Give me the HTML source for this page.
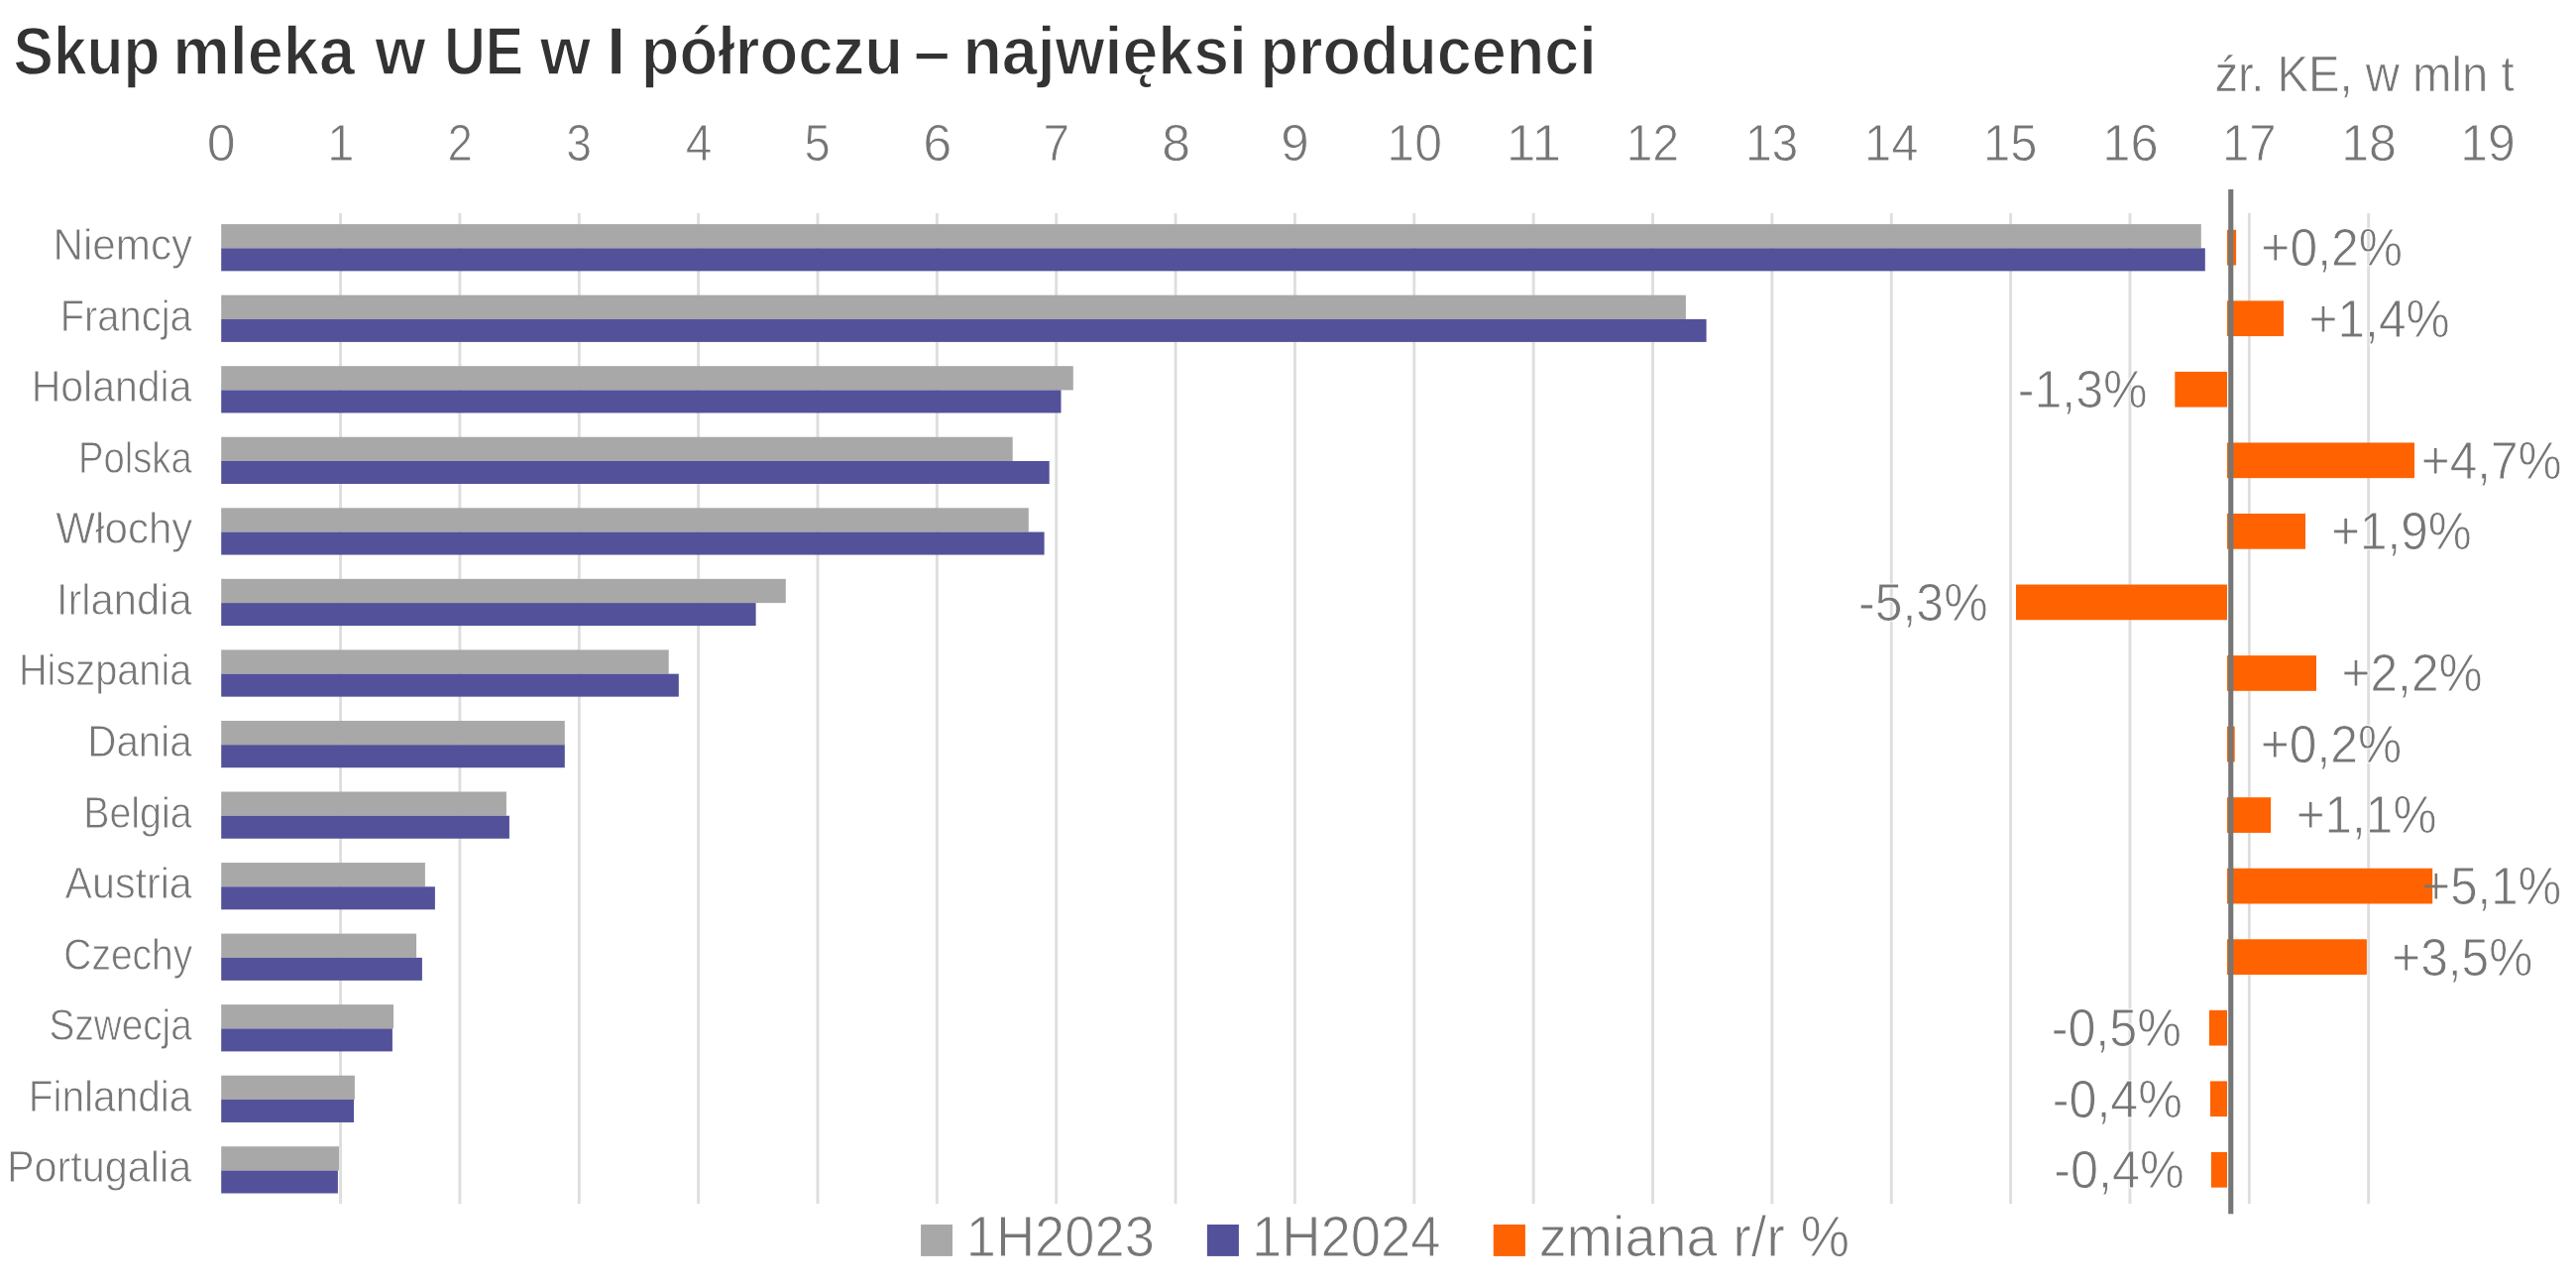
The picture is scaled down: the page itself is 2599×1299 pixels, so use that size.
<!DOCTYPE html>
<html lang="pl"><head><meta charset="utf-8"><title>Skup mleka w UE w I półroczu – najwięksi producenci</title>
<style>html,body{margin:0;padding:0;background:#fff;}body{width:2599px;height:1299px;overflow:hidden;}svg{display:block;will-change:transform;}text{white-space:pre;}</style>
</head><body>
<svg width="2599" height="1299" viewBox="0 0 2599 1299" font-family="&quot;Liberation Sans&quot;, sans-serif">
<defs><linearGradient id="hs" gradientUnits="userSpaceOnUse" x1="2454.1" y1="0" x2="2454.3" y2="0"><stop offset="0" stop-color="#FF6200"/><stop offset="1" stop-color="#fff"/></linearGradient></defs>
<rect width="2599" height="1299" fill="#fff"/>
<g stroke="#DEDEDE" stroke-width="2.9">
<line x1="343.56" y1="215" x2="343.56" y2="1214.1"/>
<line x1="463.92" y1="215" x2="463.92" y2="1214.1"/>
<line x1="584.28" y1="215" x2="584.28" y2="1214.1"/>
<line x1="704.64" y1="215" x2="704.64" y2="1214.1"/>
<line x1="825.00" y1="215" x2="825.00" y2="1214.1"/>
<line x1="945.36" y1="215" x2="945.36" y2="1214.1"/>
<line x1="1065.72" y1="215" x2="1065.72" y2="1214.1"/>
<line x1="1186.08" y1="215" x2="1186.08" y2="1214.1"/>
<line x1="1306.44" y1="215" x2="1306.44" y2="1214.1"/>
<line x1="1426.80" y1="215" x2="1426.80" y2="1214.1"/>
<line x1="1547.16" y1="215" x2="1547.16" y2="1214.1"/>
<line x1="1667.52" y1="215" x2="1667.52" y2="1214.1"/>
<line x1="1787.88" y1="215" x2="1787.88" y2="1214.1"/>
<line x1="1908.24" y1="215" x2="1908.24" y2="1214.1"/>
<line x1="2028.60" y1="215" x2="2028.60" y2="1214.1"/>
<line x1="2148.96" y1="215" x2="2148.96" y2="1214.1"/>
<line x1="2269.32" y1="215" x2="2269.32" y2="1214.1"/>
<line x1="2389.68" y1="215" x2="2389.68" y2="1214.1"/>
</g>
<rect x="223.2" y="226.10" width="1997.60" height="24.25" fill="#A8A8A8"/>
<rect x="223.2" y="250.35" width="2001.60" height="23.0" fill="#525199"/>
<rect x="2247.00" y="231.80" width="9.10" height="35.7" fill="#FF6200"/>
<rect x="223.2" y="297.65" width="1477.70" height="24.25" fill="#A8A8A8"/>
<rect x="223.2" y="321.90" width="1498.40" height="23.0" fill="#525199"/>
<rect x="2247.00" y="303.35" width="57.00" height="35.7" fill="#FF6200"/>
<rect x="223.2" y="369.20" width="859.60" height="24.25" fill="#A8A8A8"/>
<rect x="223.2" y="393.45" width="847.30" height="23.0" fill="#525199"/>
<rect x="2194.30" y="374.90" width="52.70" height="35.7" fill="#FF6200"/>
<rect x="223.2" y="440.75" width="798.50" height="24.25" fill="#A8A8A8"/>
<rect x="223.2" y="465.00" width="835.50" height="23.0" fill="#525199"/>
<rect x="2247.00" y="446.45" width="189.00" height="35.7" fill="#FF6200"/>
<rect x="223.2" y="512.30" width="814.60" height="24.25" fill="#A8A8A8"/>
<rect x="223.2" y="536.55" width="830.40" height="23.0" fill="#525199"/>
<rect x="2247.00" y="518.00" width="79.00" height="35.7" fill="#FF6200"/>
<rect x="223.2" y="583.85" width="569.60" height="24.25" fill="#A8A8A8"/>
<rect x="223.2" y="608.10" width="539.40" height="23.0" fill="#525199"/>
<rect x="2034.00" y="589.55" width="213.00" height="35.7" fill="#FF6200"/>
<rect x="223.2" y="655.40" width="451.50" height="24.25" fill="#A8A8A8"/>
<rect x="223.2" y="679.65" width="461.60" height="23.0" fill="#525199"/>
<rect x="2247.00" y="661.10" width="90.00" height="35.7" fill="#FF6200"/>
<rect x="223.2" y="726.95" width="346.60" height="24.25" fill="#A8A8A8"/>
<rect x="223.2" y="751.20" width="346.60" height="23.0" fill="#525199"/>
<rect x="2247.00" y="732.65" width="7.70" height="35.7" fill="#FF6200"/>
<rect x="223.2" y="798.50" width="287.70" height="24.25" fill="#A8A8A8"/>
<rect x="223.2" y="822.75" width="290.70" height="23.0" fill="#525199"/>
<rect x="2247.00" y="804.20" width="44.10" height="35.7" fill="#FF6200"/>
<rect x="223.2" y="870.05" width="205.70" height="24.25" fill="#A8A8A8"/>
<rect x="223.2" y="894.30" width="215.70" height="23.0" fill="#525199"/>
<rect x="2247.00" y="875.75" width="207.20" height="35.7" fill="#FF6200"/>
<rect x="223.2" y="941.60" width="196.90" height="24.25" fill="#A8A8A8"/>
<rect x="223.2" y="965.85" width="202.70" height="23.0" fill="#525199"/>
<rect x="2247.00" y="947.30" width="140.90" height="35.7" fill="#FF6200"/>
<rect x="223.2" y="1013.15" width="173.80" height="24.25" fill="#A8A8A8"/>
<rect x="223.2" y="1037.40" width="172.70" height="23.0" fill="#525199"/>
<rect x="2228.90" y="1018.85" width="18.10" height="35.7" fill="#FF6200"/>
<rect x="223.2" y="1084.70" width="134.70" height="24.25" fill="#A8A8A8"/>
<rect x="223.2" y="1108.95" width="133.80" height="23.0" fill="#525199"/>
<rect x="2230.00" y="1090.40" width="17.00" height="35.7" fill="#FF6200"/>
<rect x="223.2" y="1156.25" width="118.80" height="24.25" fill="#A8A8A8"/>
<rect x="223.2" y="1180.50" width="117.70" height="23.0" fill="#525199"/>
<rect x="2230.90" y="1161.95" width="16.10" height="35.7" fill="#FF6200"/>
<rect x="2248.2" y="191" width="5.1" height="1033.3" fill="#767676"/>
<rect x="929.1" y="1235" width="31.9" height="31.9" fill="#A8A8A8"/>
<rect x="1217.9" y="1235" width="32" height="31.9" fill="#525199"/>
<rect x="1506.8" y="1235" width="32.1" height="31.9" fill="#FF6200"/>
<text id="title" y="75.40" font-size="69.3" fill="#333333" font-weight="bold" stroke="#fff" stroke-width="1.4"><tspan id="t0" x="13.59" textLength="147.76" lengthAdjust="spacingAndGlyphs">Skup</tspan> <tspan id="t1" x="174.13" textLength="183.89" lengthAdjust="spacingAndGlyphs">mleka</tspan> <tspan id="t2" x="378.33" textLength="51.42" lengthAdjust="spacingAndGlyphs">w</tspan> <tspan id="t3" x="448.24" textLength="79.83" lengthAdjust="spacingAndGlyphs">UE</tspan> <tspan id="t4" x="544.80" textLength="51.31" lengthAdjust="spacingAndGlyphs">w</tspan> <tspan id="t5" x="611.70" textLength="19.78" lengthAdjust="spacingAndGlyphs">I</tspan> <tspan id="t6" x="646.70" textLength="264.33" lengthAdjust="spacingAndGlyphs">półroczu</tspan> <tspan id="t7" x="922.06" textLength="36.46" lengthAdjust="spacingAndGlyphs">–</tspan> <tspan id="t8" x="971.47" textLength="286.40" lengthAdjust="spacingAndGlyphs">najwięksi</tspan> <tspan id="t9" x="1271.47" textLength="339.37" lengthAdjust="spacingAndGlyphs">producenci</tspan></text>
<text id="src" x="2234.39" y="92.15" font-size="50.0" fill="#767676" stroke="#fff" stroke-width="0.7" textLength="302.17" lengthAdjust="spacingAndGlyphs">źr. KE, w mln t</text>
<text id="ax0" x="208.87" y="162.40" font-size="51.8" fill="#767676" stroke="#fff" stroke-width="0.85" textLength="28.88" lengthAdjust="spacingAndGlyphs">0</text>
<text id="ax1" x="330.23" y="162.40" font-size="51.8" fill="#767676" stroke="#fff" stroke-width="0.85" textLength="27.25" lengthAdjust="spacingAndGlyphs">1</text>
<text id="ax2" x="451.42" y="162.40" font-size="51.8" fill="#767676" stroke="#fff" stroke-width="0.85" textLength="25.35" lengthAdjust="spacingAndGlyphs">2</text>
<text id="ax3" x="571.15" y="162.40" font-size="51.8" fill="#767676" stroke="#fff" stroke-width="0.85" textLength="25.76" lengthAdjust="spacingAndGlyphs">3</text>
<text id="ax4" x="691.76" y="162.40" font-size="51.8" fill="#767676" stroke="#fff" stroke-width="0.85" textLength="26.62" lengthAdjust="spacingAndGlyphs">4</text>
<text id="ax5" x="811.52" y="162.40" font-size="51.8" fill="#767676" stroke="#fff" stroke-width="0.85" textLength="26.29" lengthAdjust="spacingAndGlyphs">5</text>
<text id="ax6" x="931.37" y="162.40" font-size="51.8" fill="#767676" stroke="#fff" stroke-width="0.85" textLength="29.04" lengthAdjust="spacingAndGlyphs">6</text>
<text id="ax7" x="1052.61" y="162.40" font-size="51.8" fill="#767676" stroke="#fff" stroke-width="0.85" textLength="26.71" lengthAdjust="spacingAndGlyphs">7</text>
<text id="ax8" x="1172.24" y="162.40" font-size="51.8" fill="#767676" stroke="#fff" stroke-width="0.85" textLength="28.86" lengthAdjust="spacingAndGlyphs">8</text>
<text id="ax9" x="1292.17" y="162.40" font-size="51.8" fill="#767676" stroke="#fff" stroke-width="0.85" textLength="28.47" lengthAdjust="spacingAndGlyphs">9</text>
<text id="ax10" x="1399.33" y="162.40" font-size="51.8" fill="#767676" stroke="#fff" stroke-width="0.85" textLength="55.63" lengthAdjust="spacingAndGlyphs">10</text>
<text id="ax11" x="1519.67" y="162.40" font-size="51.8" fill="#767676" stroke="#fff" stroke-width="0.85" textLength="55.51" lengthAdjust="spacingAndGlyphs">11</text>
<text id="ax12" x="1640.49" y="162.40" font-size="51.8" fill="#767676" stroke="#fff" stroke-width="0.85" textLength="53.79" lengthAdjust="spacingAndGlyphs">12</text>
<text id="ax13" x="1760.89" y="162.40" font-size="51.8" fill="#767676" stroke="#fff" stroke-width="0.85" textLength="53.49" lengthAdjust="spacingAndGlyphs">13</text>
<text id="ax14" x="1880.96" y="162.40" font-size="51.8" fill="#767676" stroke="#fff" stroke-width="0.85" textLength="54.39" lengthAdjust="spacingAndGlyphs">14</text>
<text id="ax15" x="2001.09" y="162.40" font-size="51.8" fill="#767676" stroke="#fff" stroke-width="0.85" textLength="54.60" lengthAdjust="spacingAndGlyphs">15</text>
<text id="ax16" x="2121.25" y="162.40" font-size="51.8" fill="#767676" stroke="#fff" stroke-width="0.85" textLength="56.38" lengthAdjust="spacingAndGlyphs">16</text>
<text id="ax17" x="2241.88" y="162.40" font-size="51.8" fill="#767676" stroke="#fff" stroke-width="0.85" textLength="54.73" lengthAdjust="spacingAndGlyphs">17</text>
<text id="ax18" x="2362.13" y="162.40" font-size="51.8" fill="#767676" stroke="#fff" stroke-width="0.85" textLength="55.83" lengthAdjust="spacingAndGlyphs">18</text>
<text id="ax19" x="2482.23" y="162.40" font-size="51.8" fill="#767676" stroke="#fff" stroke-width="0.85" textLength="55.49" lengthAdjust="spacingAndGlyphs">19</text>
<text id="c0" x="53.43" y="262.10" font-size="43.5" fill="#767676" stroke="#fff" stroke-width="0.8" textLength="140.72" lengthAdjust="spacingAndGlyphs">Niemcy</text>
<text id="p0" x="2281.35" y="268.05" font-size="54.1" fill="#767676" stroke="#fff" stroke-width="0.85" textLength="142.61" lengthAdjust="spacingAndGlyphs">+0,2%</text>
<text id="c1" x="60.74" y="333.65" font-size="43.5" fill="#767676" stroke="#fff" stroke-width="0.8" textLength="132.94" lengthAdjust="spacingAndGlyphs">Francja</text>
<text id="p1" x="2329.48" y="339.60" font-size="54.1" fill="#767676" stroke="#fff" stroke-width="0.85" textLength="142.22" lengthAdjust="spacingAndGlyphs">+1,4%</text>
<text id="c2" x="31.63" y="405.20" font-size="43.5" fill="#767676" stroke="#fff" stroke-width="0.8" textLength="161.84" lengthAdjust="spacingAndGlyphs">Holandia</text>
<text id="p2" x="2035.69" y="411.15" font-size="54.1" fill="#767676" stroke="#fff" stroke-width="0.85" textLength="130.91" lengthAdjust="spacingAndGlyphs">-1,3%</text>
<text id="c3" x="78.94" y="476.75" font-size="43.5" fill="#767676" stroke="#fff" stroke-width="0.8" textLength="114.72" lengthAdjust="spacingAndGlyphs">Polska</text>
<text id="p3" x="2442.67" y="482.70" font-size="54.1" fill="#767676" stroke="#fff" stroke-width="0.85" textLength="142.05" lengthAdjust="spacingAndGlyphs">+4,7%</text>
<text id="c4" x="56.36" y="548.30" font-size="43.5" fill="#767676" stroke="#fff" stroke-width="0.8" textLength="138.07" lengthAdjust="spacingAndGlyphs">Włochy</text>
<text id="p4" x="2352.20" y="554.25" font-size="54.1" fill="#767676" stroke="#fff" stroke-width="0.85" textLength="141.49" lengthAdjust="spacingAndGlyphs">+1,9%</text>
<text id="c5" x="56.89" y="619.85" font-size="43.5" fill="#767676" stroke="#fff" stroke-width="0.8" textLength="136.75" lengthAdjust="spacingAndGlyphs">Irlandia</text>
<text id="p5" x="1875.08" y="625.80" font-size="54.1" fill="#767676" stroke="#fff" stroke-width="0.85" textLength="130.49" lengthAdjust="spacingAndGlyphs">-5,3%</text>
<text id="c6" x="18.94" y="691.40" font-size="43.5" fill="#767676" stroke="#fff" stroke-width="0.8" textLength="174.40" lengthAdjust="spacingAndGlyphs">Hiszpania</text>
<text id="p6" x="2362.52" y="697.35" font-size="54.1" fill="#767676" stroke="#fff" stroke-width="0.85" textLength="142.10" lengthAdjust="spacingAndGlyphs">+2,2%</text>
<text id="c7" x="88.29" y="762.95" font-size="43.5" fill="#767676" stroke="#fff" stroke-width="0.8" textLength="105.42" lengthAdjust="spacingAndGlyphs">Dania</text>
<text id="p7" x="2280.75" y="768.90" font-size="54.1" fill="#767676" stroke="#fff" stroke-width="0.85" textLength="142.35" lengthAdjust="spacingAndGlyphs">+0,2%</text>
<text id="c8" x="84.18" y="834.50" font-size="43.5" fill="#767676" stroke="#fff" stroke-width="0.8" textLength="109.42" lengthAdjust="spacingAndGlyphs">Belgia</text>
<text id="p8" x="2316.66" y="840.45" font-size="54.1" fill="#767676" stroke="#fff" stroke-width="0.85" textLength="141.76" lengthAdjust="spacingAndGlyphs">+1,1%</text>
<text id="c9" x="65.52" y="906.05" font-size="43.5" fill="#767676" stroke="#fff" stroke-width="0.8" textLength="128.22" lengthAdjust="spacingAndGlyphs">Austria</text>
<text id="p9" x="2443.44" y="912.00" font-size="54.1" fill="#767676" stroke="url(#hs)" stroke-width="0.85" textLength="140.85" lengthAdjust="spacingAndGlyphs">+5,1%</text>
<text id="c10" x="64.28" y="977.60" font-size="43.5" fill="#767676" stroke="#fff" stroke-width="0.8" textLength="129.95" lengthAdjust="spacingAndGlyphs">Czechy</text>
<text id="p10" x="2413.26" y="983.55" font-size="54.1" fill="#767676" stroke="#fff" stroke-width="0.85" textLength="142.06" lengthAdjust="spacingAndGlyphs">+3,5%</text>
<text id="c11" x="49.57" y="1049.15" font-size="43.5" fill="#767676" stroke="#fff" stroke-width="0.8" textLength="144.11" lengthAdjust="spacingAndGlyphs">Szwecja</text>
<text id="p11" x="2069.67" y="1055.10" font-size="54.1" fill="#767676" stroke="#fff" stroke-width="0.85" textLength="131.31" lengthAdjust="spacingAndGlyphs">-0,5%</text>
<text id="c12" x="28.67" y="1120.70" font-size="43.5" fill="#767676" stroke="#fff" stroke-width="0.8" textLength="164.80" lengthAdjust="spacingAndGlyphs">Finlandia</text>
<text id="p12" x="2070.70" y="1126.65" font-size="54.1" fill="#767676" stroke="#fff" stroke-width="0.85" textLength="131.30" lengthAdjust="spacingAndGlyphs">-0,4%</text>
<text id="c13" x="6.90" y="1192.25" font-size="43.5" fill="#767676" stroke="#fff" stroke-width="0.8" textLength="186.31" lengthAdjust="spacingAndGlyphs">Portugalia</text>
<text id="p13" x="2072.22" y="1198.20" font-size="54.1" fill="#767676" stroke="#fff" stroke-width="0.85" textLength="131.56" lengthAdjust="spacingAndGlyphs">-0,4%</text>
<text id="l0" x="974.70" y="1267.30" font-size="57.4" fill="#767676" stroke="#fff" stroke-width="1.0" textLength="190.26" lengthAdjust="spacingAndGlyphs">1H2023</text>
<text id="l1" x="1262.88" y="1267.30" font-size="57.4" fill="#767676" stroke="#fff" stroke-width="1.0" textLength="190.58" lengthAdjust="spacingAndGlyphs">1H2024</text>
<text id="l2" x="1552.65" y="1267.30" font-size="57.4" fill="#767676" stroke="#fff" stroke-width="1.0" textLength="313.40" lengthAdjust="spacingAndGlyphs">zmiana r/r %</text>
</svg>
</body></html>
